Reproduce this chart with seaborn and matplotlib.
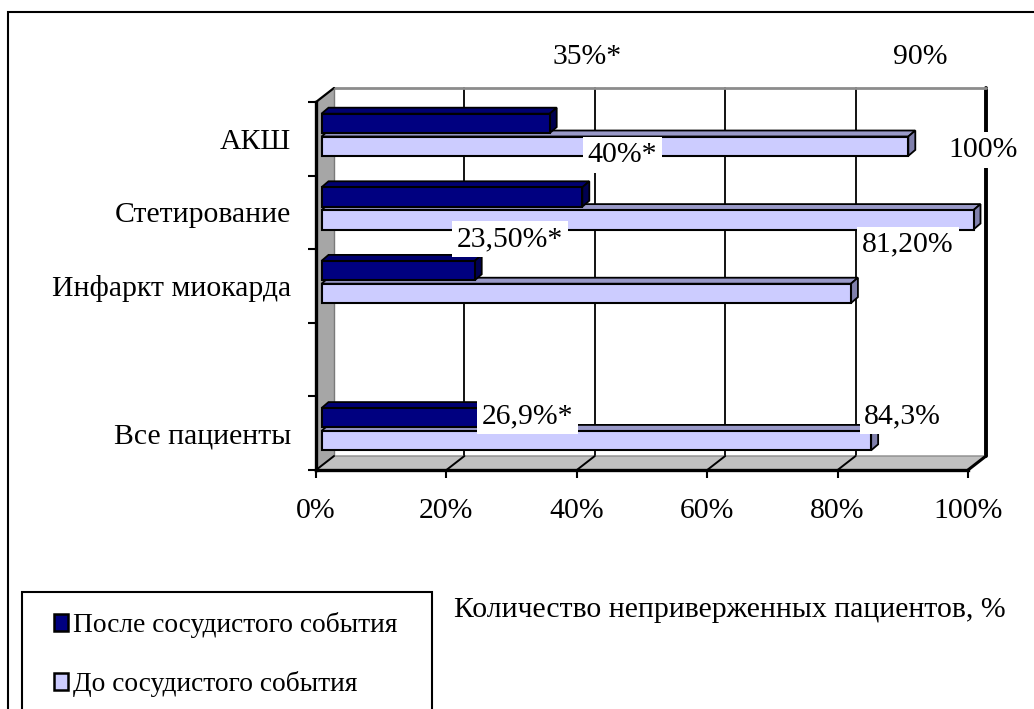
import matplotlib
matplotlib.use("Agg")
import matplotlib.pyplot as plt
import seaborn as sns
import pandas as pd
from matplotlib.patches import Polygon, Rectangle, Patch
from matplotlib.transforms import IdentityTransform, ScaledTranslation
from matplotlib.lines import Line2D

# ---------------- data ----------------
categories = ["АКШ", "Стетирование", "Инфаркт миокарда", "Все пациенты"]
slot_order = ["АКШ", "Стетирование", "Инфаркт миокарда", " ", "Все пациенты"]
after_values = [35.0, 40.0, 23.5, 26.9]
before_values = [90.0, 100.0, 81.2, 84.3]
series_names = ["После сосудистого события", "До сосудистого события"]
label_texts = ["35%*", "90%", "40%*", "100%", "23,50%*", "81,20%", "26,9%*", "84,3%"]
x_ticks = [0, 20, 40, 60, 80, 100]
x_tick_labels = ["0%", "20%", "40%", "60%", "80%", "100%"]
axis_title = "Количество неприверженных пациентов, %"

# layout of the (manually moved) data labels, in data coordinates
label_positions = [(41.5, -1.11), (92.6, -1.11), (47.0, 0.22), (102.3, 0.15),
                   (29.8, 1.36), (90.8, 1.44), (32.5, 3.77), (90.0, 3.77)]

rows = []
for c, a, b in zip(categories, after_values, before_values):
    rows.append({"category": c, "series": series_names[0], "value": a})
    rows.append({"category": c, "series": series_names[1], "value": b})
df = pd.DataFrame(rows)

# ---------------- style ----------------
sns.set_theme(style="white")
plt.rcParams["font.family"] = ["Liberation Serif", "DejaVu Serif"]
for k in ["text.color", "axes.labelcolor", "xtick.color", "ytick.color"]:
    plt.rcParams[k] = "black"
FS = 21.4
FS_LEG = 19.8
DARK, LIGHT = "#000080", "#CCCCFF"
DARK_TOP, DARK_SIDE = "#000070", "#000050"
LIGHT_TOP, LIGHT_SIDE = "#9999C8", "#8080AC"

W, H = 1034, 709
fig = plt.figure(figsize=(W / 100, H / 100), dpi=100)
ax = fig.add_axes([316 / W, 1 - 470 / H, 652 / W, 368 / H])
ax.patch.set_visible(False)

sns.barplot(data=df, y="category", x="value", hue="series", order=slot_order,
            hue_order=series_names, palette=[DARK, LIGHT], orient="h",
            width=0.62, gap=0.15, saturation=1, edgecolor="black",
            linewidth=1.5, legend=False, ax=ax)
bars = [p for p in ax.patches if p.get_width() > 0]

ax.set_xlim(0, 100)
ax.set_ylim(4.5, -0.5)

# ---------------- 3D frame ----------------
DX, DY = 18, 14  # depth offset of the back wall (display px)
ID = IdentityTransform()


def d2p(x, y):
    return ax.transData.transform((x, y))


def back(x, y):
    px, py = d2p(x, y)
    return (px + DX, py + DY)


# back wall
bw = Polygon([back(0, 4.5), back(100, 4.5), back(100, -0.5), back(0, -0.5)],
             closed=True, facecolor="white", edgecolor="none",
             transform=ID, zorder=0.5, clip_on=False)
ax.add_patch(bw)
for xt in x_ticks[1:]:
    p1, p2 = back(xt, 4.5), back(xt, -0.5)
    ax.add_line(Line2D([p1[0], p2[0]], [p1[1], p2[1]], color="black",
                       lw=2.8 if xt == 100 else 1.3, transform=ID,
                       zorder=0.6, clip_on=False))
p1, p2 = back(0, -0.5), back(100, -0.5)
ax.add_line(Line2D([p1[0], p2[0]], [p1[1], p2[1]], color="#8C8C8C", lw=2,
                   transform=ID, zorder=0.6, clip_on=False))

# left wall
f_top, f_bot = d2p(0, -0.5), d2p(0, 4.5)
lw_poly = Polygon([f_top, f_bot, back(0, 4.5), back(0, -0.5)], closed=True,
                  facecolor="#A6A6A6", edgecolor="none", transform=ID,
                  zorder=0.7, clip_on=False)
ax.add_patch(lw_poly)
bt = back(0, -0.5)
ax.add_line(Line2D([f_top[0], bt[0]], [f_top[1], bt[1]], color="black", lw=1.6,
                   transform=ID, zorder=0.75, clip_on=False))
bb = back(0, 4.5)
ax.add_line(Line2D([bt[0], bb[0]], [bt[1], bb[1]], color="#7A7A7A", lw=1,
                   transform=ID, zorder=0.75, clip_on=False))

# floor
fl = Polygon([d2p(0, 4.5), d2p(100, 4.5), back(100, 4.5), back(0, 4.5)],
             closed=True, facecolor="#C0C0C0", edgecolor="#8C8C8C", lw=1,
             transform=ID, zorder=0.8, clip_on=False)
ax.add_patch(fl)
for xt in x_ticks:
    p1, p2 = d2p(xt, 4.5), back(xt, 4.5)
    ax.add_line(Line2D([p1[0], p2[0]], [p1[1], p2[1]], color="black",
                       lw=2.2 if xt == 100 else 1.4, transform=ID,
                       zorder=0.85, clip_on=False))

# ---------------- 3D bars ----------------
BOX, BOY = 5.5, 4      # bar plane offset (px)
BDX, BDY = 7, 6        # bar depth (px)
shift = ScaledTranslation(BOX / 100, BOY / 100, fig.dpi_scale_trans)
for p in bars:
    fc = p.get_facecolor()
    is_dark = fc[2] < 0.6 and fc[0] < 0.2
    top_c, side_c = (DARK_TOP, DARK_SIDE) if is_dark else (LIGHT_TOP, LIGHT_SIDE)
    base_z = 4.0 if is_dark else 3.0
    x0, y0 = p.get_x(), p.get_y()
    x1, y1 = x0 + p.get_width(), y0 + p.get_height()
    (ax0, ay_top) = d2p(x0, y0)
    (ax1, ay_bot) = d2p(x1, y1)
    ax0 += BOX; ax1 += BOX; ay_top += BOY; ay_bot += BOY
    top = Polygon([(ax0, ay_top), (ax0 + BDX, ay_top + BDY),
                   (ax1 + BDX, ay_top + BDY), (ax1, ay_top)], closed=True,
                  facecolor=top_c, edgecolor="black", lw=1.3, transform=ID,
                  zorder=base_z, clip_on=False, joinstyle="miter")
    side = Polygon([(ax1, ay_top), (ax1 + BDX, ay_top + BDY),
                    (ax1 + BDX, ay_bot + BDY), (ax1, ay_bot)], closed=True,
                   facecolor=side_c, edgecolor="black", lw=1.3, transform=ID,
                   zorder=base_z + 0.1, clip_on=False, joinstyle="miter")
    ax.add_patch(top)
    ax.add_patch(side)
    p.set_transform(ax.transData + shift)
    p.set_zorder(base_z + 0.2)
    p.set_clip_on(False)

# ---------------- axes ----------------
for s in ["top", "right"]:
    ax.spines[s].set_visible(False)
for s in ["left", "bottom"]:
    ax.spines[s].set_visible(True)
    ax.spines[s].set_color("black")
    ax.spines[s].set_linewidth(2.4)
    ax.spines[s].set_zorder(0.9)

ax.set_xticks(x_ticks)
ax.set_xticklabels(x_tick_labels, fontsize=FS, color="black")
ax.tick_params(axis="x", direction="out", length=5.8, width=1.5,
               color="black", labelcolor="black", pad=14, bottom=True)
ax.set_yticks(range(len(slot_order)))
ax.set_yticklabels(slot_order, fontsize=FS, color="black")
ax.set_yticks([i - 0.5 for i in range(len(slot_order) + 1)], minor=True)
ax.tick_params(axis="y", which="major", length=0, pad=18, left=True,
               labelcolor="black")
ax.tick_params(axis="y", which="minor", direction="out", length=5.8,
               width=1.5, color="black", left=True)
ax.set_ylabel("")
ax.set_xlabel(axis_title, fontsize=FS, color="black")
ax.xaxis.set_label_coords((730 - 316) / 652, (470 - 610) / 368)
ax.xaxis.label.set_va("center")

# data labels
for s, (lx, ly) in zip(label_texts, label_positions):
    ax.text(lx, ly, s, ha="center", va="center", fontsize=FS, color="black",
            bbox=dict(facecolor="white", edgecolor="none", pad=3.5),
            zorder=10, clip_on=False)

# ---------------- legend ----------------
handles = [Patch(facecolor=DARK, edgecolor="black", lw=1.8),
           Patch(facecolor=LIGHT, edgecolor="black", lw=1.8)]
leg = fig.legend(handles, series_names, loc="upper left",
                 bbox_to_anchor=(54 / W, 1 - 612 / H), frameon=False,
                 handlelength=0.5, handleheight=0.6, handletextpad=0.2,
                 labelspacing=1.2, fontsize=FS_LEG, borderaxespad=0,
                 borderpad=0, labelcolor="black")
fig.add_artist(Rectangle((22 / W, (709 - 730) / H), 410 / W, (730 - 592) / H,
                         transform=fig.transFigure, fill=False,
                         edgecolor="black", lw=1.5))
# outer chart border
fig.add_artist(Rectangle((8 / W, -0.05), (1060 - 8) / W, (709 - 12) / H + 0.05,
                         transform=fig.transFigure, fill=False,
                         edgecolor="black", lw=1.5))

fig.savefig("out.png", dpi=100, facecolor="white")
